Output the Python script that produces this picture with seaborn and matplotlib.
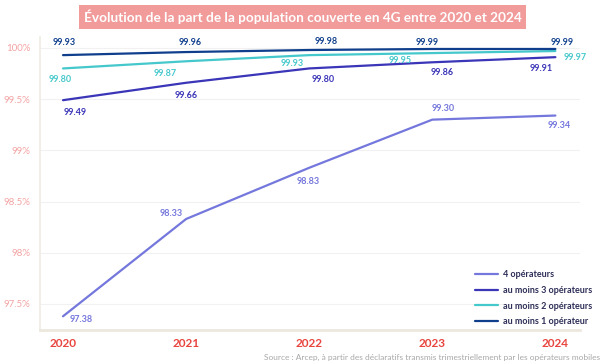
import matplotlib
matplotlib.use("Agg")
import matplotlib.pyplot as plt
import numpy as np
import pandas as pd
import seaborn as sns

years = [2020, 2021, 2022, 2023, 2024]
series_names = ["4 opérateurs", "au moins 3 opérateurs", "au moins 2 opérateurs", "au moins 1 opérateur"]
four_ops = [97.38, 98.33, 98.83, 99.30, 99.34]
three_ops = [99.49, 99.66, 99.80, 99.86, 99.91]
two_ops = [99.80, 99.87, 99.93, 99.95, 99.97]
one_op = [99.93, 99.96, 99.98, 99.99, 99.99]
y_ticks = [97.5, 98, 98.5, 99, 99.5, 100]
y_tick_labels = ["97.5%", "98%", "98.5%", "99%", "99.5%", "100%"]

colors = {
    "4 opérateurs": "#7477dc",
    "au moins 3 opérateurs": "#3b35b8",
    "au moins 2 opérateurs": "#45c8cc",
    "au moins 1 opérateur": "#0f3f8c",
}

# label offsets in points (dx, dy), one per year
offsets = {
    "4 opérateurs": [(13, -2), (-11, 4), (-1, -10), (8, 8), (3, -7)],
    "au moins 3 opérateurs": [(9, -9), (0, -9), (10, -8), (7, -7), (-10, -8)],
    "au moins 2 opérateurs": [(-2, -8), (-15, -9), (-12, -6), (-23, -5), (14, -5)],
    "au moins 1 opérateur": [(1, 9), (3, 7), (12, 6), (-4, 5), (5, 5)],
}

all_vals = [four_ops, three_ops, two_ops, one_op]
df = pd.DataFrame({
    "year": years * 4,
    "value": four_ops + three_ops + two_ops + one_op,
    "serie": [n for n in series_names for _ in years],
})

sns.set_style("white")
plt.rcParams["font.family"] = ["Lato", "DejaVu Sans"]

fig = plt.figure(figsize=(6.05, 3.63), dpi=100)
ax = fig.add_axes([40 / 605, 1 - 330 / 363, 540 / 605, 293 / 363])

sns.lineplot(data=df, x="year", y="value", hue="serie", hue_order=series_names,
             palette=colors, linewidth=1.6, ax=ax, legend=True)

for name, vals in zip(series_names, all_vals):
    for x, v, (dx, dy) in zip(years, vals, offsets[name]):
        ax.annotate(f"{v:.2f}", xy=(x, v), xytext=(dx, dy), textcoords="offset points",
                    ha="center", va="center", fontsize=6.5, fontweight="bold",
                    color=colors[name])

ax.set_xlim(2019.813, 2024.2)
ax.set_ylim(97.246, 100.107)
ax.set_xticks(years)
ax.set_xticklabels([str(y) for y in years], color="#e8453f", fontsize=8.5, fontweight="bold")
ax.set_yticks(y_ticks)
ax.set_yticklabels(y_tick_labels, color="#f4a3a3", fontsize=7)
ax.tick_params(axis="x", length=0, pad=6)
ax.tick_params(axis="y", length=0, pad=7)
ax.grid(axis="y", color="#f1f1f1", linewidth=0.8)
ax.set_xlabel("")
ax.set_ylabel("")
for s in ["top", "right"]:
    ax.spines[s].set_visible(False)
ax.spines["left"].set_color("#eeebe2")
ax.spines["left"].set_linewidth(1.2)
ax.spines["bottom"].set_color("#ece8de")
ax.spines["bottom"].set_linewidth(2)

handles, labels = ax.get_legend_handles_labels()
ax.legend(handles, labels, loc="upper left", bbox_to_anchor=(475 / 605, 1 - 270 / 363),
          bbox_transform=fig.transFigure, frameon=False, handlelength=2.5,
          handletextpad=0.6, labelspacing=0.75, borderpad=0, borderaxespad=0,
          labelcolor="#2e2e58", prop={"weight": "bold", "size": 6.5})

fig.text(0.5, 1 - 17 / 363, "Évolution de la part de la population couverte en 4G entre 2020 et 2024",
         ha="center", va="center", fontsize=9.8, fontweight="bold", color="white",
         bbox=dict(boxstyle="square,pad=0.35", facecolor="#f29b9b", edgecolor="none"))

fig.text(600 / 605, 1 - 357 / 363,
         "Source : Arcep, à partir des déclaratifs transmis trimestriellement par les opérateurs mobiles",
         ha="right", va="center", fontsize=6, color="#a8a8a8")

fig.savefig("out.png", dpi=100)
